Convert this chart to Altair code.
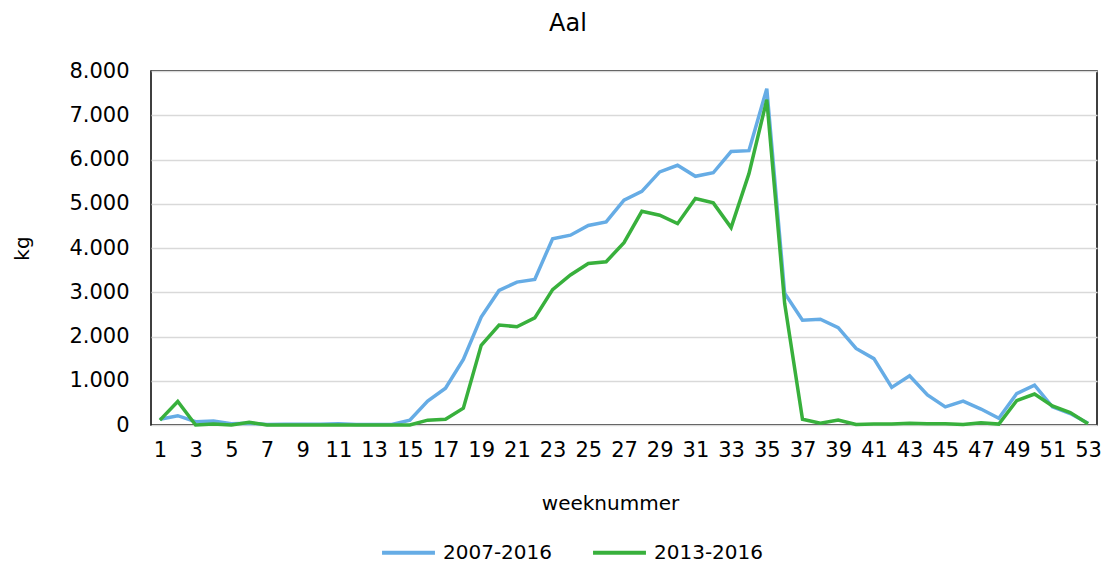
import altair as alt
import pandas as pd

weeks = list(range(1, 54))
series_names = ["2007-2016", "2013-2016"]
kg_2007_2016 = [130, 210, 75, 90, 30, 40, 10, 15, 15, 15, 30, 10, 10, 10, 110, 540, 830, 1480,
                2440, 3040, 3230, 3290, 4210, 4290, 4510, 4590, 5080, 5280, 5720, 5870, 5620,
                5700, 6180, 6200, 7600, 2980, 2370, 2390, 2200, 1730, 1500, 850, 1110, 680,
                410, 540, 360, 150, 710, 900, 410, 260, 40]
kg_2013_2016 = [110, 530, 0, 25, 0, 60, 0, 0, 0, 0, 0, 0, 0, 0, 0, 110, 130, 380,
                1800, 2260, 2220, 2420, 3060, 3390, 3650, 3690, 4120, 4830, 4740, 4550, 5120,
                5020, 4460, 5680, 7350, 2750, 130, 40, 110, 10, 20, 20, 40, 30,
                30, 10, 50, 20, 550, 700, 430, 280, 30]
x_tick_labels = list(range(1, 54, 2))
y_ticks = list(range(0, 8001, 1000))
colors = ["#66ACE5", "#38B03C"]

rows = []
for name, vals in zip(series_names, [kg_2007_2016, kg_2013_2016]):
    for w, v in zip(weeks, vals):
        rows.append({"week": w, "kg": v, "reeks": name})
df = pd.DataFrame(rows)

FONT = "DejaVu Sans"

chart = alt.Chart(df).mark_line(strokeWidth=3.5).encode(
    x=alt.X("week:O",
            scale=alt.Scale(type="point", padding=0.5),
            axis=alt.Axis(values=x_tick_labels, labelAngle=0, ticks=False, domain=False,
                          grid=False, labelPadding=14, title="weeknummer",
                          titleX=459, titleY=78, titleBaseline="middle",
                          titleFontWeight="normal")),
    y=alt.Y("kg:Q",
            scale=alt.Scale(domain=[0, 8000], nice=False),
            axis=alt.Axis(values=y_ticks, ticks=False, domain=False, labelPadding=22,
                          labelExpr="replace(format(datum.value, ','), ',', '.')",
                          gridColor="#d9d9d9", gridWidth=1.5, title="kg",
                          titleX=-129, titleY=177, titleBaseline="middle", titleAngle=-90,
                          titleFontWeight="normal")),
    color=alt.Color("reeks:N",
                    scale=alt.Scale(domain=series_names, range=colors),
                    legend=alt.Legend(title=None, orient="none", direction="horizontal",
                                      legendX=229, legendY=453,
                                      symbolType="stroke", symbolSize=2800,
                                      symbolStrokeWidth=4, columnPadding=32,
                                      labelOffset=6)),
).properties(
    width=946,
    height=354,
    title=alt.Title("Aal", anchor="middle", dx=-56, offset=24, fontSize=24,
                    fontWeight="normal", font=FONT, color="#000000"),
    autosize="none",
    padding={"left": 143, "top": 63, "right": 7, "bottom": 142},
).configure_view(
    stroke="#000000", strokeWidth=1.5
).configure_axis(
    labelFont=FONT, titleFont=FONT, labelFontSize=21, titleFontSize=20,
    labelColor="#000000", titleColor="#000000"
).configure_legend(
    labelFont=FONT, labelFontSize=20, labelColor="#000000"
)

chart.save("out.html", embed_options={"renderer": "svg", "actions": False})
